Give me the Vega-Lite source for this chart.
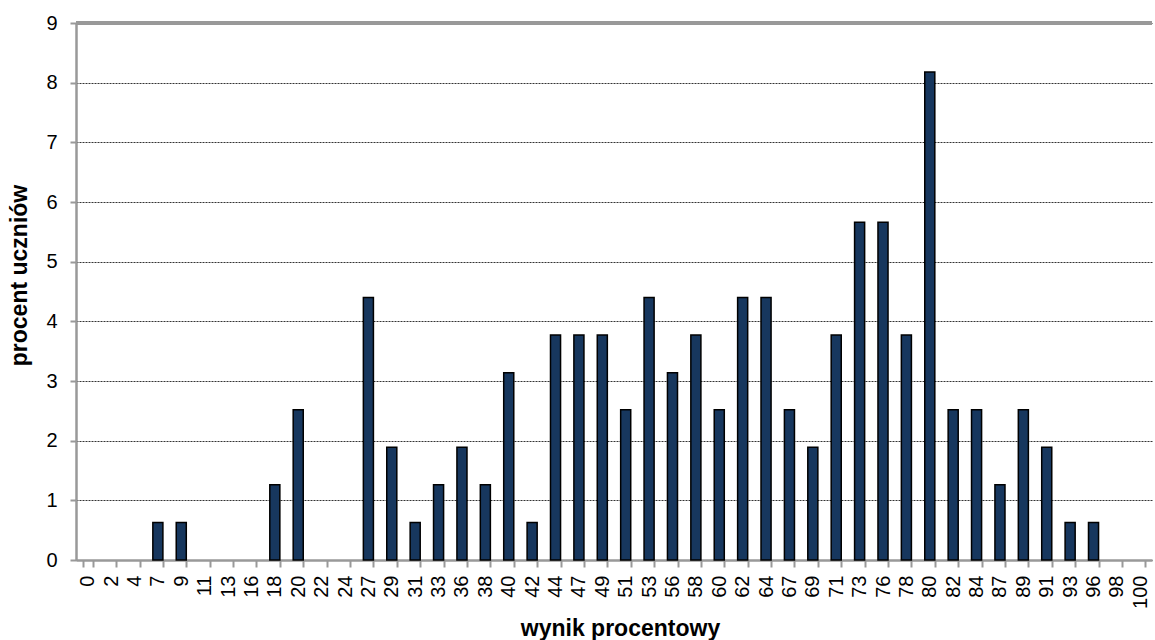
{
  "$schema": "https://vega.github.io/schema/vega-lite/v6.json",
  "width": 1076,
  "height": 537,
  "autosize": "none",
  "padding": {"left": 76, "top": 23, "right": 3, "bottom": 80},
  "background": "white",
  "config": {
    "view": {"stroke": null},
    "font": "Liberation Sans"
  },
  "data": {
    "values": [
      {"wynik": "0", "procent": 0},
      {"wynik": "2", "procent": 0},
      {"wynik": "4", "procent": 0},
      {"wynik": "7", "procent": 0.63},
      {"wynik": "9", "procent": 0.63},
      {"wynik": "11", "procent": 0},
      {"wynik": "13", "procent": 0},
      {"wynik": "16", "procent": 0},
      {"wynik": "18", "procent": 1.26},
      {"wynik": "20", "procent": 2.52},
      {"wynik": "22", "procent": 0},
      {"wynik": "24", "procent": 0},
      {"wynik": "27", "procent": 4.4},
      {"wynik": "29", "procent": 1.89},
      {"wynik": "31", "procent": 0.63},
      {"wynik": "33", "procent": 1.26},
      {"wynik": "36", "procent": 1.89},
      {"wynik": "38", "procent": 1.26},
      {"wynik": "40", "procent": 3.14},
      {"wynik": "42", "procent": 0.63},
      {"wynik": "44", "procent": 3.77},
      {"wynik": "47", "procent": 3.77},
      {"wynik": "49", "procent": 3.77},
      {"wynik": "51", "procent": 2.52},
      {"wynik": "53", "procent": 4.4},
      {"wynik": "56", "procent": 3.14},
      {"wynik": "58", "procent": 3.77},
      {"wynik": "60", "procent": 2.52},
      {"wynik": "62", "procent": 4.4},
      {"wynik": "64", "procent": 4.4},
      {"wynik": "67", "procent": 2.52},
      {"wynik": "69", "procent": 1.89},
      {"wynik": "71", "procent": 3.77},
      {"wynik": "73", "procent": 5.66},
      {"wynik": "76", "procent": 5.66},
      {"wynik": "78", "procent": 3.77},
      {"wynik": "80", "procent": 8.18},
      {"wynik": "82", "procent": 2.52},
      {"wynik": "84", "procent": 2.52},
      {"wynik": "87", "procent": 1.26},
      {"wynik": "89", "procent": 2.52},
      {"wynik": "91", "procent": 1.89},
      {"wynik": "93", "procent": 0.63},
      {"wynik": "96", "procent": 0.63},
      {"wynik": "98", "procent": 0},
      {"wynik": "100", "procent": 0}
    ]
  },
  "layer": [
    {
      "mark": {"type": "bar", "fill": "#17375E", "stroke": "#000000", "strokeWidth": 1.5},
      "encoding": {
        "x": {
          "field": "wynik",
          "type": "ordinal",
          "sort": null,
          "scale": {"paddingInner": 0.57, "paddingOuter": 0.285},
          "axis": {
            "title": "wynik procentowy",
            "titleFont": "Liberation Sans",
            "titleFontSize": 23,
            "titleFontWeight": "bold",
            "titleColor": "#000000",
            "titleBaseline": "alphabetic",
            "titleY": 75,
            "titleX": 544,
            "labelAngle": -90,
            "labelAlign": "right",
            "labelBaseline": "middle",
            "labelFontSize": 20,
            "labelColor": "#000000",
            "labelPadding": 8,
            "tickBand": "extent",
            "tickSize": 7,
            "tickColor": "#999999",
            "tickWidth": 2,
            "domainColor": "#999999",
            "domainWidth": 2.5,
            "grid": false
          }
        },
        "y": {
          "field": "procent",
          "type": "quantitative",
          "scale": {"domain": [0, 9], "nice": false},
          "axis": {
            "title": "procent uczniów",
            "titleFont": "Liberation Sans",
            "titleFontSize": 23,
            "titleFontWeight": "bold",
            "titleColor": "#000000",
            "titleBaseline": "alphabetic",
            "titleX": -50,
            "titleY": 252,
            "values": [0, 1, 2, 3, 4, 5, 6, 7, 8, 9],
            "format": "d",
            "labelFontSize": 20,
            "labelColor": "#000000",
            "labelPadding": 13,
            "tickSize": 6,
            "tickColor": "#999999",
            "tickWidth": 2,
            "domainColor": "#999999",
            "domainWidth": 2.5,
            "grid": true,
            "gridColor": "#333333",
            "gridWidth": 1,
            "gridDash": [2, 1]
          }
        },
        "strokeOpacity": {"condition": {"test": "datum.procent > 0", "value": 1}, "value": 0}
      }
    },
    {
      "mark": {"type": "rule", "color": "#999999", "strokeWidth": 2.5},
      "encoding": {"y": {"datum": 9}}
    }
  ]
}
